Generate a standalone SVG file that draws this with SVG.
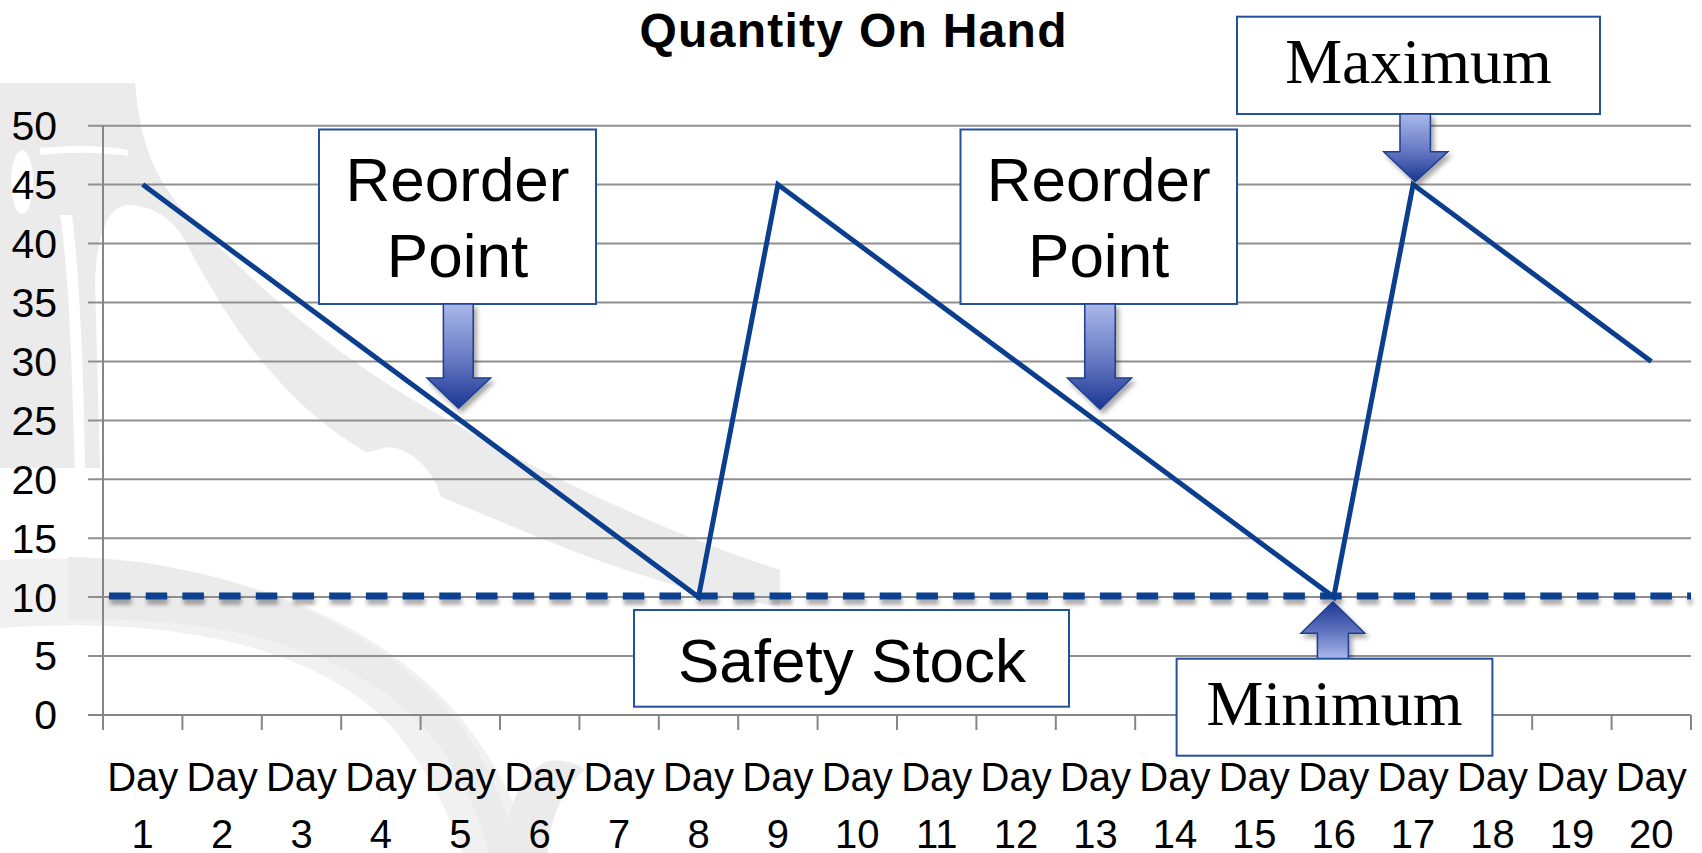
<svg xmlns="http://www.w3.org/2000/svg" width="1702" height="853" viewBox="0 0 1702 853">
  <defs>
    <linearGradient id="arrowDown" x1="0" y1="0" x2="0" y2="1">
      <stop offset="0" stop-color="#a9b8ea"/>
      <stop offset="0.55" stop-color="#6577c2"/>
      <stop offset="1" stop-color="#1b3692"/>
    </linearGradient>
    <linearGradient id="arrowUp" x1="0" y1="1" x2="0" y2="0">
      <stop offset="0" stop-color="#a9b8ea"/>
      <stop offset="0.45" stop-color="#6577c2"/>
      <stop offset="1" stop-color="#1b3692"/>
    </linearGradient>
    <filter id="shadow" x="-30%" y="-30%" width="160%" height="160%">
      <feDropShadow dx="3" dy="4" stdDeviation="2.5" flood-color="#000" flood-opacity="0.35"/>
    </filter>
    <filter id="dashShadow" filterUnits="userSpaceOnUse" x="90" y="580" width="1620" height="40">
      <feDropShadow dx="1" dy="5" stdDeviation="2" flood-color="#000" flood-opacity="0.35"/>
    </filter>
    <style>
      .grid { stroke: #8f8f8f; stroke-width: 2; fill: none; }
      .axis { stroke: #868686; stroke-width: 2; fill: none; }
      .ylab { font-family: "Liberation Sans", Arial, sans-serif; font-size: 41px; fill: #000; text-anchor: end; }
      .xlab { font-family: "Liberation Sans", Arial, sans-serif; font-size: 40px; fill: #000; text-anchor: middle; }
      .title { font-family: "Liberation Sans", Arial, sans-serif; font-size: 48px; font-weight: bold; fill: #000; text-anchor: middle; }
      .box { fill: #fff; stroke: #24509c; stroke-width: 2; }
      .sans { font-family: "Liberation Sans", Arial, sans-serif; font-size: 62px; fill: #000; text-anchor: middle; }
      .serif { font-family: "Liberation Serif", "Times New Roman", serif; font-size: 64px; fill: #000; text-anchor: middle; }
      .arrow { stroke: #1d3f8f; stroke-width: 1.5; stroke-linejoin: miter; filter: url(#shadow); }
      .deco { fill: #ebebeb; }
      .decoLight { fill: #f1f1f1; }
    </style>
  </defs>

  <rect x="0" y="0" width="1702" height="853" fill="#ffffff"/>

  <!-- faint background ornament -->
  <g id="ornament">
    <path class="deco" d="M 0,83 L 135,83 C 140,150 160,190 200,228 C 250,278 320,345 420,404 C 520,462 650,528 780,570 L 780,606 C 700,597 620,570 540,538 L 441,497 C 434,474 420,456 396,448 C 385,445 375,452 366,452 C 320,425 290,395 265,365 C 235,330 205,280 185,240 C 170,215 150,205 125,205 C 105,210 97,240 95,280 L 100,468 L 0,468 Z"/>
    <ellipse cx="22" cy="182" rx="11" ry="32" fill="#ffffff"/>
    <path d="M 40,148 C 70,145 100,145 128,150 L 128,156 C 100,152 70,152 40,155 Z" fill="#ffffff"/>
    <path d="M 60,215 C 70,280 72,380 75,468 L 85,468 C 84,380 80,280 72,215 Z" fill="#ffffff"/>
    <path class="decoLight" d="M 0,560 C 200,548 380,610 470,730 C 500,770 520,810 530,853 L 462,853 C 445,800 420,760 390,725 C 320,650 180,615 0,628 Z"/>
    <path class="deco" d="M 68,557 C 230,560 380,625 460,725 C 490,765 508,810 516,853 L 488,853 C 478,805 455,765 425,728 C 350,648 220,615 68,620 Z"/>
    <path class="deco" d="M 505,853 C 505,810 520,775 545,762 C 560,758 575,762 585,770 C 565,785 550,815 548,853 Z"/>
  </g>

  <!-- title -->
  <text class="title" x="853" y="47" textLength="427" lengthAdjust="spacing">Quantity On Hand</text>

  <!-- chart grid and axes -->
  <g id="grid">
    <line class="grid" x1="88" y1="125.7" x2="1691" y2="125.7"/>
    <line class="grid" x1="88" y1="184.6" x2="1691" y2="184.6"/>
    <line class="grid" x1="88" y1="243.6" x2="1691" y2="243.6"/>
    <line class="grid" x1="88" y1="302.5" x2="1691" y2="302.5"/>
    <line class="grid" x1="88" y1="361.4" x2="1691" y2="361.4"/>
    <line class="grid" x1="88" y1="420.4" x2="1691" y2="420.4"/>
    <line class="grid" x1="88" y1="479.3" x2="1691" y2="479.3"/>
    <line class="grid" x1="88" y1="538.2" x2="1691" y2="538.2"/>
    <line class="grid" x1="88" y1="597.1" x2="1691" y2="597.1"/>
    <line class="grid" x1="88" y1="656.1" x2="1691" y2="656.1"/>
    <line class="axis" x1="88" y1="715" x2="1691" y2="715"/>
    <line class="axis" x1="103" y1="125.7" x2="103" y2="730"/>
    <path class="axis" d="M182.4,715V730 M261.8,715V730 M341.2,715V730 M420.6,715V730 M500,715V730 M579.4,715V730 M658.8,715V730 M738.2,715V730 M817.6,715V730 M897,715V730 M976.4,715V730 M1055.8,715V730 M1135.2,715V730 M1214.6,715V730 M1294,715V730 M1373.4,715V730 M1452.8,715V730 M1532.2,715V730 M1611.6,715V730 M1691,715V730"/>
  </g>

  <!-- value axis labels -->
  <g id="y-labels">
    <text class="ylab" x="57" y="140">50</text>
    <text class="ylab" x="57" y="199">45</text>
    <text class="ylab" x="57" y="258">40</text>
    <text class="ylab" x="57" y="317">35</text>
    <text class="ylab" x="57" y="376">30</text>
    <text class="ylab" x="57" y="435">25</text>
    <text class="ylab" x="57" y="494">20</text>
    <text class="ylab" x="57" y="553">15</text>
    <text class="ylab" x="57" y="612">10</text>
    <text class="ylab" x="57" y="670">5</text>
    <text class="ylab" x="57" y="729">0</text>
  </g>

  <!-- category axis labels -->
  <g id="x-labels">
    <text class="xlab" x="142.7" y="791">Day</text><text class="xlab" x="142.7" y="848">1</text>
    <text class="xlab" x="222.1" y="791">Day</text><text class="xlab" x="222.1" y="848">2</text>
    <text class="xlab" x="301.5" y="791">Day</text><text class="xlab" x="301.5" y="848">3</text>
    <text class="xlab" x="380.9" y="791">Day</text><text class="xlab" x="380.9" y="848">4</text>
    <text class="xlab" x="460.3" y="791">Day</text><text class="xlab" x="460.3" y="848">5</text>
    <text class="xlab" x="539.7" y="791">Day</text><text class="xlab" x="539.7" y="848">6</text>
    <text class="xlab" x="619.1" y="791">Day</text><text class="xlab" x="619.1" y="848">7</text>
    <text class="xlab" x="698.5" y="791">Day</text><text class="xlab" x="698.5" y="848">8</text>
    <text class="xlab" x="777.9" y="791">Day</text><text class="xlab" x="777.9" y="848">9</text>
    <text class="xlab" x="857.3" y="791">Day</text><text class="xlab" x="857.3" y="848">10</text>
    <text class="xlab" x="936.7" y="791">Day</text><text class="xlab" x="936.7" y="848">11</text>
    <text class="xlab" x="1016.1" y="791">Day</text><text class="xlab" x="1016.1" y="848">12</text>
    <text class="xlab" x="1095.5" y="791">Day</text><text class="xlab" x="1095.5" y="848">13</text>
    <text class="xlab" x="1174.9" y="791">Day</text><text class="xlab" x="1174.9" y="848">14</text>
    <text class="xlab" x="1254.3" y="791">Day</text><text class="xlab" x="1254.3" y="848">15</text>
    <text class="xlab" x="1333.7" y="791">Day</text><text class="xlab" x="1333.7" y="848">16</text>
    <text class="xlab" x="1413.1" y="791">Day</text><text class="xlab" x="1413.1" y="848">17</text>
    <text class="xlab" x="1492.5" y="791">Day</text><text class="xlab" x="1492.5" y="848">18</text>
    <text class="xlab" x="1571.9" y="791">Day</text><text class="xlab" x="1571.9" y="848">19</text>
    <text class="xlab" x="1651.3" y="791">Day</text><text class="xlab" x="1651.3" y="848">20</text>
  </g>

  <!-- stock level series and safety stock line -->
  <g id="connectors">
    <line x1="109" y1="596" x2="1691" y2="596" stroke="#0b3f8e" stroke-width="7" stroke-dasharray="21.5 15.2" filter="url(#dashShadow)"/>
    <polyline points="142.7,184.6 698.5,597.1 777.9,184.6 1333.7,597.1 1413.1,184.6 1651.3,361.4" fill="none" stroke="#0b3f8e" stroke-width="5" stroke-linejoin="miter"/>
  </g>

  <!-- callouts -->
  <g id="reorder-1">
    <rect class="box" x="319" y="129.5" width="277" height="174.5"/>
    <text class="sans" x="457.5" y="201">Reorder</text>
    <text class="sans" x="457.5" y="277">Point</text>
    <path class="arrow" fill="url(#arrowDown)" d="M443.4,304 H473.2 V378 H490.5 L458.5,408.3 L427,378 H443.4 Z"/>
  </g>

  <g id="reorder-2">
    <rect class="box" x="960.5" y="129.5" width="276.5" height="174.5"/>
    <text class="sans" x="1098.7" y="201">Reorder</text>
    <text class="sans" x="1098.7" y="277">Point</text>
    <path class="arrow" fill="url(#arrowDown)" d="M1084.8,304 H1115.2 V378 H1131.5 L1100,409.3 L1067.4,378 H1084.8 Z"/>
  </g>

  <g id="maximum">
    <rect class="box" x="1237" y="16.7" width="363" height="97.3"/>
    <text class="serif" x="1418.5" y="82.5">Maximum</text>
    <path class="arrow" fill="url(#arrowDown)" d="M1400,114 H1430.4 V151.7 H1447.8 L1415.2,181.7 L1383.7,151.7 H1400 Z"/>
  </g>

  <g id="safety-stock">
    <rect class="box" x="634" y="610" width="435" height="96.7"/>
    <text class="sans" x="852" y="682" font-size="63">Safety Stock</text>
  </g>

  <g id="minimum">
    <path class="arrow" fill="url(#arrowUp)" d="M1317.4,658.7 V633.3 H1301 L1332.9,601.7 L1364.7,633.3 H1348.4 V658.7 Z"/>
    <rect class="box" x="1176.6" y="658.7" width="315.8" height="97"/>
    <text class="serif" x="1334.5" y="725">Minimum</text>
  </g>
</svg>
